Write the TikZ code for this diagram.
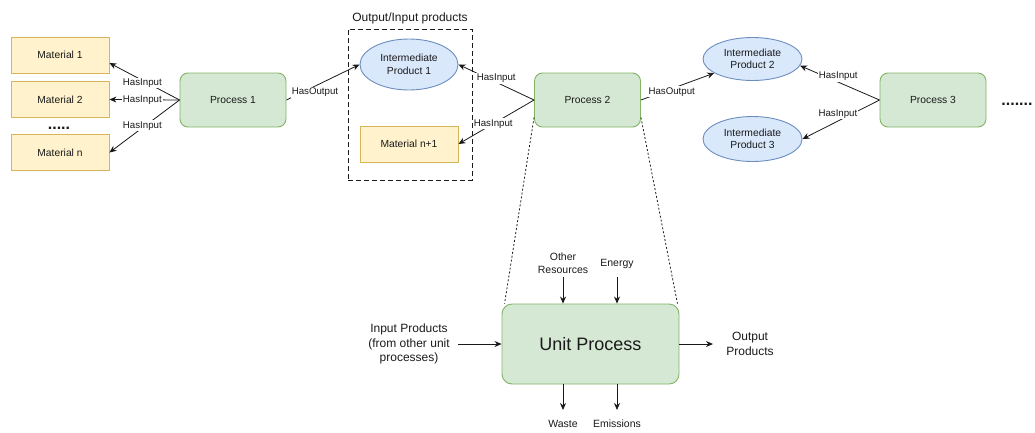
\documentclass[tikz,border=0pt]{standalone}
\usepackage{fontspec}
\setmainfont{Liberation Sans}
\usetikzlibrary{arrows.meta,shapes.geometric,calc}

\definecolor{matfill}{HTML}{FFF2CC}
\definecolor{matline}{HTML}{D6B656}
\definecolor{procfill}{HTML}{D5E8D4}
\definecolor{procline}{HTML}{82B366}
\definecolor{prodfill}{HTML}{DAE8FC}
\definecolor{prodline}{HTML}{6C8EBF}
\definecolor{ink}{HTML}{1A1A1A}

\tikzset{
  base text/.style={text=ink, font=\fontsize{10.3}{12.4}\selectfont, align=center},
  mat/.style={base text, draw=matline, fill=matfill, line width=0.9pt,
    minimum width=98pt, minimum height=36pt, inner sep=0pt},
  proc/.style={base text, draw=procline, fill=procfill, line width=0.9pt,
    rounded corners=8pt, minimum width=106pt, minimum height=54pt, inner sep=0pt},
  prod/.style={base text, ellipse, draw=prodline, fill=prodfill, line width=0.9pt,
    inner sep=0pt},
  arr/.style={draw=ink, line width=0.8pt, -{Stealth[length=7pt,width=6pt]}},
  lbl/.style={fill=white, inner sep=1pt, text=ink, font=\fontsize{9.7}{11}\selectfont},
  note/.style={text=ink, align=center, inner sep=0pt},
  dots/.style={text=ink, font=\bfseries\fontsize{16}{16}\selectfont, inner sep=0pt, anchor=base},
  zoomline/.style={draw=ink, line width=0.8pt, dash pattern=on 2pt off 2pt},
}

\begin{document}
\begin{tikzpicture}[x=1pt, y=-1pt]
\useasboundingbox (0,0) rectangle (1035,432);

% raw materials of process 1
\node[mat] (m1) at (60,55)  {Material 1};
\node[mat] (m2) at (60,99.5) {Material 2};
\node[mat] (mn) at (60,152.5) {Material n};
\node[dots] (mdots) at (59,129) {.....};

% process chain
\node[proc] (p1) at (233,100)   {Process 1};
\node[proc] (p2) at (587.5,100) {Process 2};
\node[proc] (p3) at (933,100)   {Process 3};
\node[dots] (pdots) at (1017,105) {.......};

% intermediate products group
\node[draw=ink, line width=0.9pt, dash pattern=on 5pt off 3pt,
      minimum width=124pt, minimum height=151pt, inner sep=0pt] (grp) at (410,104.5) {};
\node[note, font=\fontsize{12}{14}\selectfont, anchor=south] (grptitle) at ([yshift=4pt]grp.north) {Output/Input products};

\node[prod, minimum width=98pt, minimum height=51pt] (ip1) at (409,64.5) {Intermediate\\Product 1};
\node[mat] (mn1) at (409,144) {Material n+1};

\node[prod, minimum width=99pt, minimum height=43pt] (ip2) at (752.5,59) {Intermediate\\Product 2};
\node[prod, minimum width=99pt, minimum height=45pt] (ip3) at (752.5,139) {Intermediate\\Product 3};

% relations of the chain
\draw[arr] (p1.west) -- ([yshift=-8pt]m1.east) node[lbl, pos=0.53, yshift=-2.5pt] {HasInput};
\draw[arr] (p1.west) -- (m2.east) node[lbl, pos=0.53] {HasInput};
\draw[arr] (p1.west) -- (mn.east) node[lbl, pos=0.53, yshift=2pt] {HasInput};

\draw[arr] (p1.east) -- (ip1.west) node[lbl, pos=0.39, yshift=-6pt] {HasOutput};

\draw[arr] (p2.west) -- (ip1.east) node[lbl, pos=0.5, yshift=4pt] {HasInput};
\draw[arr] (p2.west) -- (mn1.east) node[lbl, pos=0.54] {HasInput};

\draw[arr] (p2.east) -- (ip2) node[lbl, pos=0.42, yshift=-3pt] {HasOutput};

\draw[arr] (p3.west) -- (ip2.-8) node[lbl, pos=0.52, yshift=6pt] {HasInput};
\draw[arr] (p3.west) -- (ip3.east) node[lbl, pos=0.54, yshift=7pt] {HasInput};

% unit process detail
\node[proc, rounded corners=10pt, minimum width=177pt, minimum height=80pt,
      font=\fontsize{18}{21}\selectfont] (up) at (590.5,344) {Unit Process};

\coordinate (zl) at ([yshift=10pt]p2.south west);
\coordinate (zr) at ([yshift=10pt]p2.south east);
\draw[zoomline] (zl) -- ([xshift=3pt]up.north west);
\draw[zoomline] (zr) -- ([xshift=-2pt]up.north east);

\node[note, font=\fontsize{10.5}{12.8}\selectfont] (res) at (563,263.5) {Other\\Resources};
\node[note, font=\fontsize{10.5}{12.8}\selectfont] (en)  at (617,264) {Energy};
\coordinate (res-in) at (563,277);
\coordinate (en-in)  at (617,277);
\draw[arr] (res-in) -- (res-in |- up.north);
\draw[arr] (en-in)  -- (en-in |- up.north);

\node[note, font=\fontsize{10.5}{12.8}\selectfont] (waste) at (563,424) {Waste};
\node[note, font=\fontsize{10.5}{12.8}\selectfont] (emis)  at (617,424) {Emissions};
\coordinate (waste-out) at (563,410);
\coordinate (emis-out)  at (617,410);
\draw[arr] (waste-out |- up.south) -- (waste-out);
\draw[arr] (emis-out |- up.south) -- (emis-out);

\node[note, font=\fontsize{12}{14.5}\selectfont] (inp) at (409,344) {Input Products\\(from other unit\\processes)};
\coordinate (inp-out) at (458,344);
\draw[arr] (inp-out) -- (up.west);

\node[note, font=\fontsize{12}{14.5}\selectfont] (outp) at (750,344) {Output\\Products};
\coordinate (outp-in) at (713,344);
\draw[arr] (up.east) -- (outp-in);

\end{tikzpicture}
\end{document}
